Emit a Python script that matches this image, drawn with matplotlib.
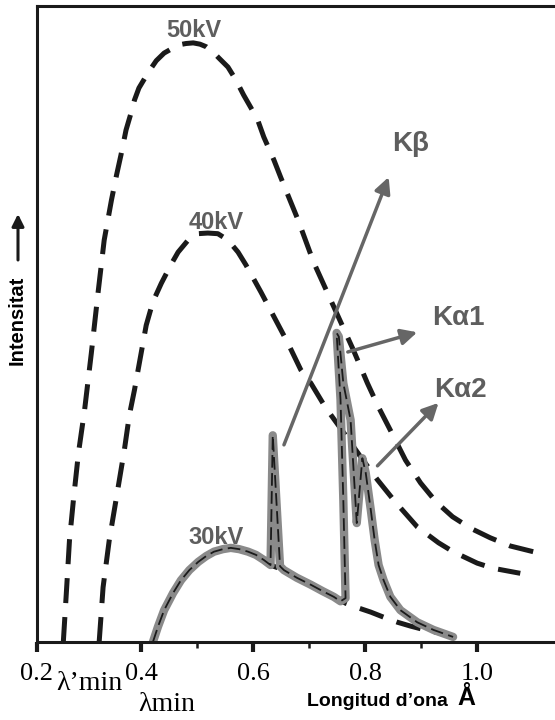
import matplotlib
matplotlib.use("Agg")
import matplotlib.pyplot as plt

# espectre continu per 50kV i 40kV (longitud d'ona en A, intensitat arbitraria)
lam_50kv = [0.261, 0.267, 0.272, 0.279, 0.288, 0.299, 0.311, 0.323, 0.334, 0.347,
            0.356, 0.364, 0.373, 0.382, 0.388, 0.396, 0.413, 0.427, 0.441, 0.453,
            0.468, 0.480, 0.493, 0.505, 0.516, 0.528, 0.539, 0.555, 0.569, 0.583,
            0.596, 0.608, 0.619, 0.637, 0.649, 0.667, 0.680, 0.708, 0.744, 0.779,
            0.804, 0.824, 0.845, 0.872, 0.899, 0.927, 0.956, 0.988, 1.023, 1.059,
            1.100]
int_50kv = [0.0, 8.6, 16.0, 22.3, 29.7, 36.5, 45.4, 54.9, 63.2, 69.5,
            73.4, 76.6, 80.5, 83.2, 85.2, 87.1, 89.6, 91.4, 92.6, 93.2,
            93.9, 94.1, 94.2, 94.0, 93.6, 92.8, 91.8, 90.4, 88.4, 86.0,
            84.0, 82.1, 79.4, 75.8, 73.1, 69.2, 66.4, 59.7, 52.7, 45.9,
            40.7, 36.9, 33.3, 28.6, 25.0, 22.0, 19.7, 17.9, 16.4, 15.1,
            14.2]

lam_40kv = [0.325, 0.332, 0.343, 0.356, 0.370, 0.379, 0.388, 0.395, 0.409, 0.421,
            0.436, 0.453, 0.466, 0.484, 0.501, 0.519, 0.537, 0.555, 0.573,
            0.587, 0.614, 0.626, 0.662, 0.685, 0.703, 0.729, 0.761, 0.792, 0.822,
            0.854, 0.893, 0.931, 0.957, 1.000, 1.028, 1.077]
int_40kv = [0.0, 8.6, 16.0, 22.8, 30.2, 35.7, 39.6, 43.0, 49.8, 53.5,
            56.4, 59.3, 61.3, 63.2, 64.2, 64.3, 64.2, 63.2, 61.3,
            59.3, 55.0, 53.0, 47.0, 42.8, 40.7, 36.9, 33.0, 29.1, 25.5,
            22.0, 18.1, 15.6, 14.2, 12.4, 11.6, 10.8]

# 30kV: radiacio continua i espectre total amb les linies K
lam_30kv_cont = [0.421, 0.430, 0.441, 0.457, 0.471, 0.486, 0.502, 0.516, 0.530, 0.546,
                 0.560, 0.575, 0.591, 0.605, 0.619, 0.631, 0.655, 0.678, 0.703, 0.724,
                 0.744, 0.765, 0.783, 0.810, 0.833, 0.858, 0.881, 0.907, 0.934, 0.961]
int_30kv_cont = [0.0, 2.4, 5.0, 7.7, 9.7, 11.3, 12.6, 13.5, 14.2, 14.6,
                 14.8, 14.6, 14.2, 13.7, 12.9, 12.1, 11.3, 10.1, 9.0, 8.0,
                 7.1, 6.1, 5.5, 4.7, 3.9, 3.1, 2.5, 1.9, 1.4, 0.8]

lam_30kv = [0.421, 0.430, 0.441, 0.457, 0.471, 0.486, 0.502, 0.516, 0.530, 0.546,
            0.560, 0.575, 0.591, 0.605, 0.619, 0.631, 0.635, 0.648, 0.655, 0.678,
            0.703, 0.724, 0.744, 0.756, 0.765, 0.761, 0.756, 0.749, 0.753, 0.761,
            0.774, 0.779, 0.785, 0.795, 0.801, 0.810, 0.817, 0.824, 0.833, 0.845,
            0.863, 0.893, 0.922, 0.957]
int_30kv = [0.0, 2.4, 5.0, 7.7, 9.7, 11.3, 12.6, 13.5, 14.2, 14.6,
            14.8, 14.6, 14.2, 13.7, 12.9, 12.1, 32.5, 11.9, 11.3, 10.1,
            9.0, 8.0, 7.1, 6.4, 6.9, 22.3, 38.1, 48.6, 48.0, 40.7,
            34.9, 27.5, 18.7, 28.9, 26.6, 20.8, 16.0, 12.1, 9.7, 7.1,
            5.0, 3.1, 1.9, 0.8]

tick_pos = [0.214, 0.4, 0.6, 0.8, 1.0]
tick_lab = ["0.2", "0.4", "0.6", "0.8", "1.0"]
minor_pos = [0.5, 0.7, 0.9]

fig = plt.figure(figsize=(5.55, 7.2), dpi=100)
ax = fig.add_axes([37 / 555, 78 / 720, 1 - 37 / 555, 636 / 720])

black = "#1a1a1a"
grey = "#5e5e5e"
dash = (0, (5, 2.8))

ax.plot(lam_50kv, int_50kv, color=black, lw=3.6, ls=dash)
ax.plot(lam_40kv, int_40kv, color=black, lw=3.6, ls=dash)
ax.plot(lam_30kv_cont, int_30kv_cont, color=black, lw=3.6, ls=dash)
ax.plot(lam_30kv, int_30kv, color="#8a8a8a", lw=6, solid_joinstyle="round",
        solid_capstyle="round")
ax.plot(lam_30kv, int_30kv, color=black, lw=1.3, ls=(0, (7, 3)))

ax.set_xlim(0.214, 1.139)
ax.set_ylim(0, 100)
ax.set_yticks([])
ax.set_xticks(tick_pos)
ax.set_xticklabels(tick_lab, fontfamily="Liberation Serif", fontsize=19)
ax.set_xticks(minor_pos, minor=True)
ax.tick_params(axis="x", which="major", length=7, width=3, color=black, pad=8)
ax.tick_params(axis="x", which="minor", length=4, width=1.8, color=black)
ax.spines["right"].set_visible(False)
for s in ["left", "top", "bottom"]:
    ax.spines[s].set_linewidth(2.2)
    ax.spines[s].set_color(black)

lab = dict(color=grey, fontweight="bold", fontfamily="Liberation Sans",
           ha="center", va="center")
ax.text(0.494, 96.1, "50kV", fontsize=17, **lab)
ax.text(0.534, 66.0, "40kV", fontsize=17, **lab)
ax.text(0.534, 16.4, "30kV", fontsize=17, **lab)
ax.text(0.881, 78.3, "Kβ", fontsize=20, **lab)
ax.text(0.966, 50.9, "Kα1", fontsize=20, **lab)
ax.text(0.970, 39.6, "Kα2", fontsize=20, **lab)

arr = dict(arrowstyle="-|>", color="#666666", lw=2.5, mutation_scale=24,
           shrinkA=0, shrinkB=0)
ax.annotate("", xy=(0.842, 73.1), xytext=(0.655, 31.0), arrowprops=arr)
ax.annotate("", xy=(0.893, 48.7), xytext=(0.769, 45.6), arrowprops=arr)
ax.annotate("", xy=(0.931, 37.6), xytext=(0.822, 27.7), arrowprops=arr)

ax.text(0.307, -6.6, "λ’min", fontsize=20, fontfamily="Liberation Serif",
        ha="center", va="center")
ax.text(0.445, -9.8, "λmin", fontsize=20, fontfamily="Liberation Serif",
        ha="center", va="center")

fig.text(377 / 555, 0.026, "Longitud d’ona", fontsize=14, fontweight="bold",
         fontfamily="Liberation Sans", ha="center", va="center")
fig.text(466 / 555, 0.031, "Å", fontsize=18, fontweight="bold",
         fontfamily="Liberation Sans", ha="center", va="center")

fig.text(17 / 555, (720 - 320) / 720, "Intensitat", rotation=90, fontsize=14.5,
         fontweight="bold", fontfamily="Liberation Sans", ha="center", va="center")
fig.add_artist(matplotlib.patches.FancyArrowPatch(
    (18 / 555, (720 - 260) / 720), (18 / 555, (720 - 214) / 720),
    transform=fig.transFigure, arrowstyle="-|>", mutation_scale=18,
    color=black, lw=2.2, shrinkA=0, shrinkB=0))

fig.savefig("out.png", dpi=100)
